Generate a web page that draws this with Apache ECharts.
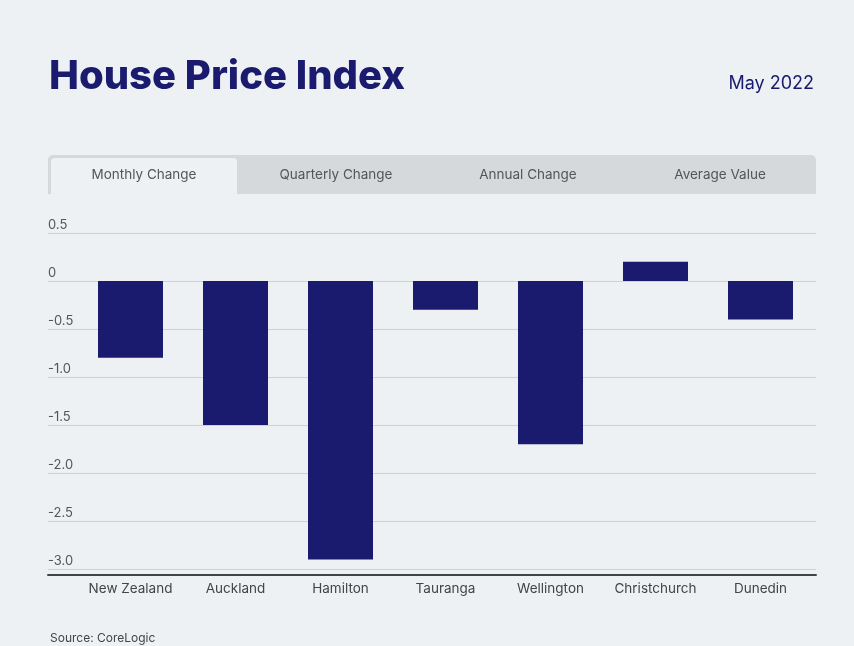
<!DOCTYPE html>
<html>
<head>
<meta charset="utf-8">
<script src="https://cdn.jsdelivr.net/npm/echarts@6/dist/echarts.min.js"></script>
<style>
html,body{margin:0;padding:0;background:#edf1f4;}
#chart{width:854px;height:646px;}
</style>
</head>
<body>
<div id="chart"></div>
<script>
const categories = ['New Zealand','Auckland','Hamilton','Tauranga','Wellington','Christchurch','Dunedin'];
const monthlyChange = [-0.8,-1.5,-2.9,-0.3,-1.7,0.2,-0.4];
const tabLabels = ['Monthly Change','Quarterly Change','Annual Change','Average Value'];
const yMin = -3.0, yMax = 0.5, yStep = 0.5;

const NAVY = '#1a1a6e';
const FONT = 'Inter, "Open Sans", sans-serif';

const chart = echarts.init(document.getElementById('chart'));

const tabX = 48, tabW = 768, tabY = 155, tabH = 39;
const tabGraphics = [
  {type:'rect', shape:{x:tabX, y:tabY, width:tabW, height:tabH, r:[5,5,0,0]}, style:{fill:'#d5d9dc'}, silent:true},
  {type:'rect', shape:{x:tabX+3, y:tabY+3, width:tabW/4-6, height:tabH-3, r:[4,4,0,0]}, style:{fill:'#edf1f4'}, silent:true}
];
tabLabels.forEach((t,i)=>{
  tabGraphics.push({type:'text', x:tabX + tabW/4*(i+0.5), y:tabY+20, style:{text:t, fill:'#555', font:'13.5px '+FONT, textAlign:'center', textVerticalAlign:'middle'}, silent:true});
});
tabGraphics.push({type:'text', x:50, y:638, style:{text:'Source: CoreLogic', fill:'#444', font:'12px '+FONT, textAlign:'left', textVerticalAlign:'middle'}, silent:true});

const gridTop = 233, gridBottom = 77;

chart.setOption({
  backgroundColor:'#edf1f4',
  animation:false,
  title:[
    {text:'House Price Index', left:49, top:57, padding:0, textStyle:{color:NAVY, fontSize:40, fontWeight:800, fontFamily:FONT}},
    {text:'May 2022', right:40, top:75, padding:0, textStyle:{color:NAVY, fontSize:18, fontWeight:'normal', fontFamily:FONT}}
  ],
  graphic: tabGraphics,
  grid:[
    {left:48, right:38, top:gridTop, bottom:gridBottom},
    {left:78, right:41, top:gridTop, bottom:gridBottom}
  ],
  xAxis:[
    {type:'value', gridIndex:0, min:0, max:1, offset:6, axisLine:{show:true, onZero:false, lineStyle:{color:'#444', width:2}}, axisTick:{show:false}, axisLabel:{show:false}, splitLine:{show:false}},
    {type:'category', gridIndex:1, data:categories, offset:6, axisLine:{show:false, onZero:false}, axisTick:{show:false},
     axisLabel:{interval:0, color:'#444', fontSize:13.5, fontFamily:FONT, margin:7}}
  ],
  yAxis:[
    {type:'value', gridIndex:0, min:yMin, max:yMax, interval:yStep,
     axisLine:{show:false}, axisTick:{show:false},
     splitLine:{lineStyle:{color:'#ccd1d5', width:1}},
     axisLabel:{inside:true, margin:0, align:'left', verticalAlign:'bottom', padding:[0,0,1,0], color:'#555', fontSize:13, fontFamily:FONT,
       formatter:v=> v===0 ? '0' : v.toFixed(1)}},
    {type:'value', gridIndex:1, min:yMin, max:yMax, interval:yStep, show:false, splitLine:{show:false}}
  ],
  series:[
    {type:'bar', xAxisIndex:1, yAxisIndex:1, data:monthlyChange, barWidth:65, itemStyle:{color:NAVY}, silent:true}
  ]
});
</script>
</body>
</html>
